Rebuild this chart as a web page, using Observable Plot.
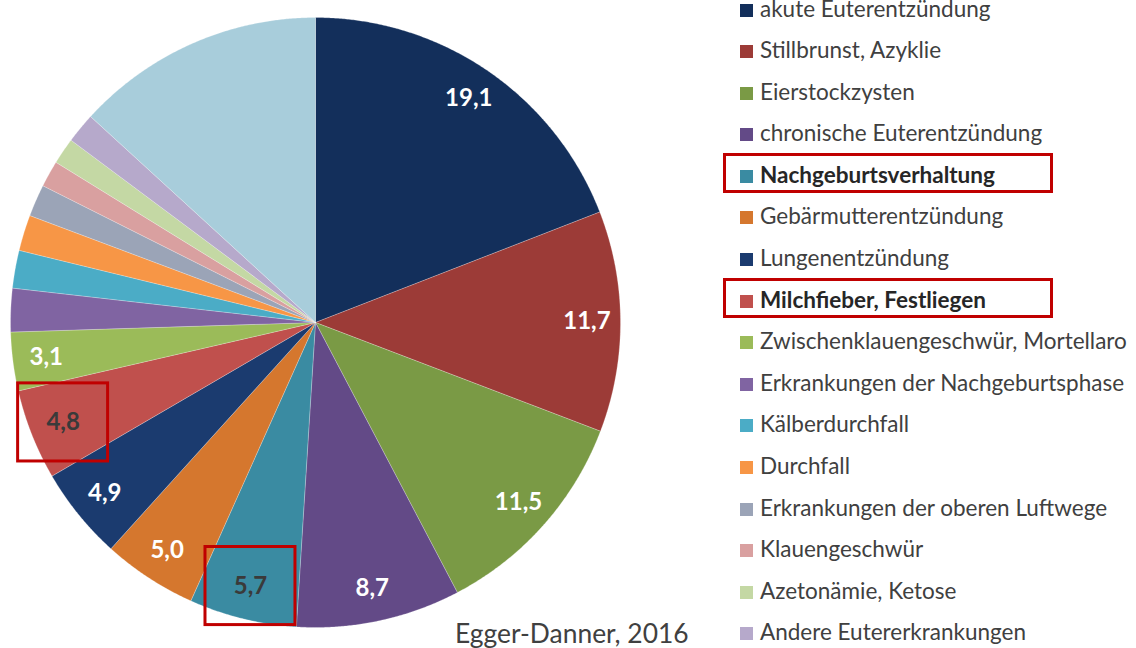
<!DOCTYPE html>
<html>
<head>
<meta charset="utf-8">
<script src="https://cdn.jsdelivr.net/npm/d3@7"></script>
<script src="https://cdn.jsdelivr.net/npm/@observablehq/plot@0.6"></script>
<style>
  body { margin: 0; background: #fff; }
  #wrap { position: relative; width: 1136px; height: 648px; overflow: hidden; font-family: Lato, "Open Sans", sans-serif; }
  #wrap svg { position: absolute; left: 0; top: 0; }
  #legend { position: absolute; left: 740px; top: -10.8px; }
  .item { height: 41.6px; display: flex; align-items: center; font-size: 22.5px; color: #404040; white-space: nowrap; }
  .item span.t { position: relative; top: -2px; }
  .item.b { font-weight: bold; color: #262626; }
  .sw { width: 13px; height: 13px; margin-right: 7px; flex: none; }
  .hl { position: absolute; box-sizing: border-box; border: 3px solid #c00000; }
  #caption { position: absolute; left: 455px; top: 620px; font-size: 26.4px; line-height: 26px; color: #404040; white-space: nowrap; }
</style>
</head>
<body>
<div id="wrap"></div>
<script>
// ---- data ----
const categories = [
  "akute Euterentzündung",
  "Stillbrunst, Azyklie",
  "Eierstockzysten",
  "chronische Euterentzündung",
  "Nachgeburtsverhaltung",
  "Gebärmutterentzündung",
  "Lungenentzündung",
  "Milchfieber, Festliegen",
  "Zwischenklauengeschwür, Mortellaro",
  "Erkrankungen der Nachgeburtsphase",
  "Kälberdurchfall",
  "Durchfall",
  "Erkrankungen der oberen Luftwege",
  "Klauengeschwür",
  "Azetonämie, Ketose",
  "Andere Eutererkrankungen",
  "Sonstige"
];
const values = [19.1, 11.7, 11.5, 8.7, 5.7, 5.0, 4.9, 4.8, 3.1, 2.3, 2.0, 1.9, 1.7, 1.4, 1.4, 1.6, 13.2];
const colors = [
  "#132f5b", "#9c3b37", "#7a9a45", "#634a87", "#3a8ba2", "#d5772e",
  "#1b3b6f", "#c0504d", "#9bbb59", "#8064a2", "#4bacc6", "#f79646",
  "#9ba4b7", "#d9a0a0", "#c4d8a4", "#b6a9cb", "#a8cddb"
];
const labeled = categories.slice(0, 9);
const highlighted = ["Nachgeburtsverhaltung", "Milchfieber, Festliegen"];
const legendNames = categories.slice(0, 16);
const caption = "Egger-Danner, 2016";

// ---- geometry built from data ----
const table = categories.map((name, i) => ({name, value: values[i]}));
const arcs = d3.pie().sort(null).value(d => d.value)(table);
const pts = [];
for (const a of arcs) {
  pts.push({name: a.data.name, x: 0, y: 0});
  const n = Math.max(2, Math.ceil((a.endAngle - a.startAngle) / 0.005));
  for (let k = 0; k <= n; k++) {
    const t = a.startAngle + (a.endAngle - a.startAngle) * k / n;
    pts.push({name: a.data.name, x: Math.sin(t), y: Math.cos(t)});
  }
  pts.push({name: a.data.name, x: 0, y: 0});
}
const fmt = v => d3.format(".1f")(v).replace(".", ",");
const labelR = 0.89;
const labels = arcs.filter(a => labeled.includes(a.data.name)).map(a => {
  const m = (a.startAngle + a.endAngle) / 2;
  return {name: a.data.name, text: fmt(a.data.value), x: labelR * Math.sin(m), y: labelR * Math.cos(m),
          hl: highlighted.includes(a.data.name)};
});
const boxes = labels.filter(d => d.hl);

const plot = Plot.plot({
  width: 1136, height: 648,
  marginLeft: 10, marginRight: 516, marginTop: 17, marginBottom: 21,
  x: {domain: [-1, 1], axis: null},
  y: {domain: [-1, 1], axis: null},
  color: {domain: categories, range: colors},
  style: {background: "transparent", fontFamily: "Lato, sans-serif"},
  marks: [
    Plot.line(pts, {x: "x", y: "y", z: "name", fill: "name", stroke: "#ffffff", strokeWidth: 0.4, strokeOpacity: 0.6, curve: "linear"}),
    Plot.text(labels, {x: "x", y: "y", text: "text", fill: d => d.hl ? "#3a3a3a" : "#ffffff",
      fontWeight: "bold", fontSize: 24}),
    Plot.rect(boxes, {x1: d => d.x - 0.1475, x2: d => d.x + 0.1475, y1: d => d.y - 0.128, y2: d => d.y + 0.128,
      fill: "none", stroke: "#c00000", strokeWidth: 3})
  ]
});

const wrap = document.getElementById("wrap");
wrap.appendChild(plot);

const legend = document.createElement("div");
legend.id = "legend";
legendNames.forEach((name, i) => {
  const row = document.createElement("div");
  row.className = "item" + (highlighted.includes(name) ? " b" : "");
  const sw = document.createElement("div");
  sw.className = "sw";
  sw.style.background = colors[categories.indexOf(name)];
  const t = document.createElement("span");
  t.className = "t";
  t.textContent = name;
  row.appendChild(sw); row.appendChild(t);
  legend.appendChild(row);
});
wrap.appendChild(legend);

highlighted.forEach(name => {
  const i = legendNames.indexOf(name);
  const cy = 10 + 41.6 * i - 3.5;
  const b = document.createElement("div");
  b.className = "hl";
  b.style.left = "723px";
  b.style.width = "330px";
  b.style.top = (cy - 20) + "px";
  b.style.height = "40px";
  wrap.appendChild(b);
});

const cap = document.createElement("div");
cap.id = "caption";
cap.textContent = caption;
wrap.appendChild(cap);
</script>
</body>
</html>
